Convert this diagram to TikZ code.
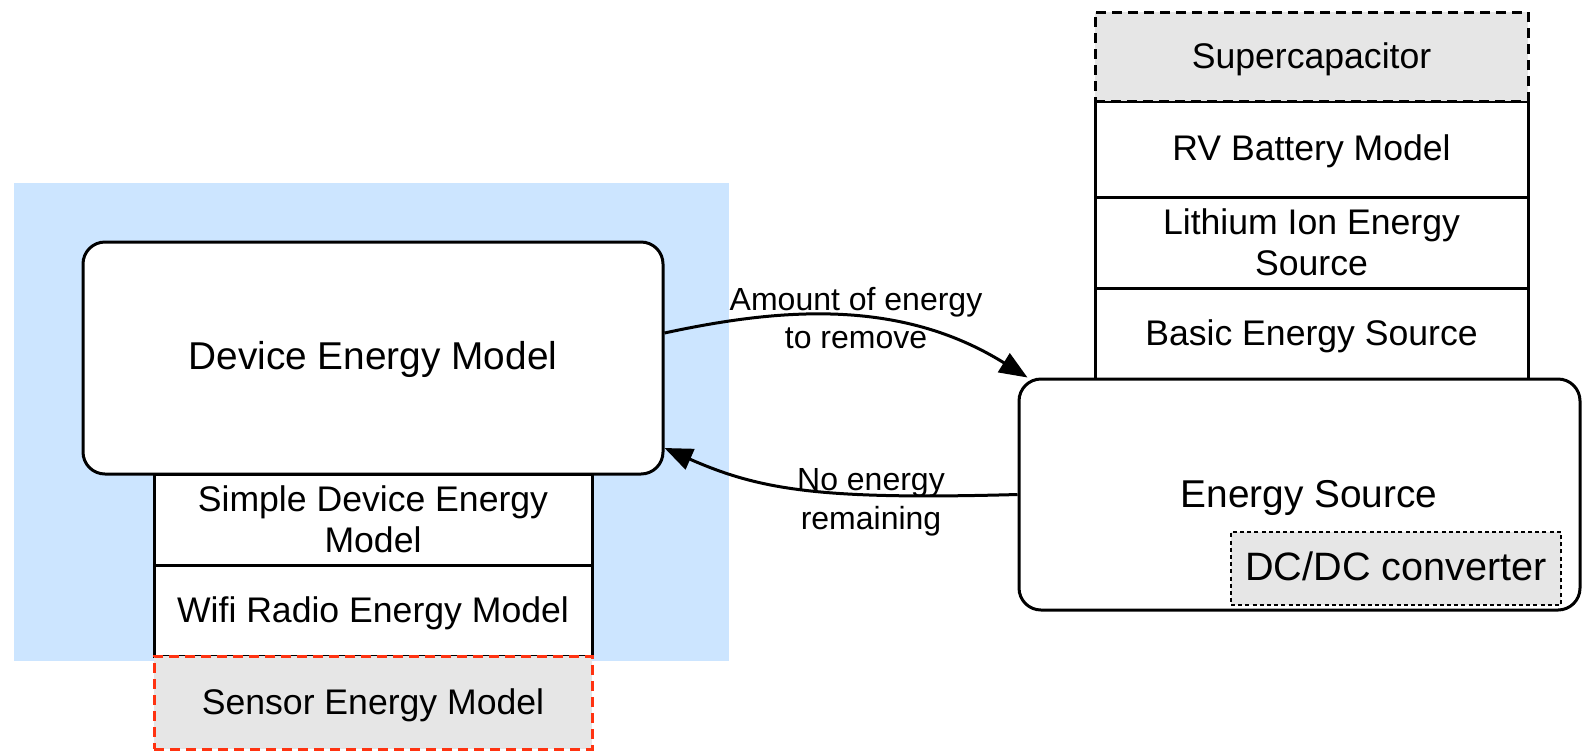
\documentclass[tikz,border=0pt]{standalone}
\usepackage{fontspec}
\setmainfont{Liberation Sans}
\usetikzlibrary{arrows.meta}
\definecolor{bgblue}{HTML}{CCE5FF}
\definecolor{optgray}{HTML}{E6E6E6}
\definecolor{optred}{HTML}{FF3311}
\begin{document}
\begin{tikzpicture}[x=0.5pt,y=-0.5pt,
  box/.style={draw=black, line width=1.5pt, fill=white, inner sep=0pt, align=center,
    font=\fontsize{17.8}{20.6}\selectfont},
  oneline/.style={text height=13pt, text depth=1.4pt},
  bigbox/.style={box, rounded corners=11pt, font=\fontsize{19.4}{23}\selectfont},
  optbox/.style={box, fill=optgray, dash pattern=on 5pt off 3pt},
  conn/.style={line width=1.5pt, -{Triangle[length=14pt,width=11pt]}},
  elabel/.style={align=center, inner sep=0pt, font=\fontsize{16}{19.3}\selectfont}
]
\useasboundingbox (0,0) rectangle (1582,751);
% background group
\node[fill=bgblue, inner sep=0pt, minimum width=357.5pt, minimum height=239pt] (bg) at (371.5,422) {};
% left side
\node[bigbox, minimum width=290pt, minimum height=116pt, text height=14pt, text depth=3pt] (dev) at (373,358) {Device Energy Model};
\node[box, minimum width=219pt, minimum height=45.5pt] (simple) at (373,519.5) {Simple Device Energy\\Model};
\node[box, oneline, minimum width=219pt, minimum height=45.5pt] (wifi) at (373,610.5) {Wifi Radio Energy Model};
\node[optbox, oneline, draw=optred, minimum width=219pt, minimum height=46.5pt] (sensor) at (373,702.5) {Sensor Energy Model};
% right stack
\node[box, oneline, minimum width=216.5pt, minimum height=48pt] (rv) at (1311.5,149) {RV Battery Model};
\node[optbox, oneline, minimum width=216.5pt, minimum height=44.5pt] (super) at (1311.5,56.5) {Supercapacitor};
\node[box, minimum width=216.5pt, minimum height=45.5pt] (li) at (1311.5,242.5) {Lithium Ion Energy\\Source};
\node[box, oneline, minimum width=216.5pt, minimum height=45.5pt] (basic) at (1311.5,333.5) {Basic Energy Source};
\node[bigbox, minimum width=280.5pt, minimum height=115.5pt] (es) at (1299.5,494.5) {};
\node[inner sep=0pt, font=\fontsize{19.4}{23}\selectfont] (estext) at (1309,498) {Energy Source};
\node[box, fill=optgray, line width=1pt, dash pattern=on 2pt off 1.6pt, minimum width=165pt, minimum height=36.5pt,
  text height=14pt, text depth=2.5pt, font=\fontsize{19.8}{23}\selectfont] (dcdc) at (1396,568.5) {DC/DC converter};
% connectors
\draw[conn] ([yshift=12.5pt]dev.east) .. controls (780,308) and (900,298) .. ([xshift=5pt]es.north west);
\draw[conn] (es.west) .. controls (820,500) and (760,490) .. ([yshift=-45pt]dev.east);
\node[elabel] (l1) at (856,318) {Amount of energy\\to remove};
\node[elabel] (l2) at (871,502) {No energy\\remaining};
\end{tikzpicture}
\end{document}
